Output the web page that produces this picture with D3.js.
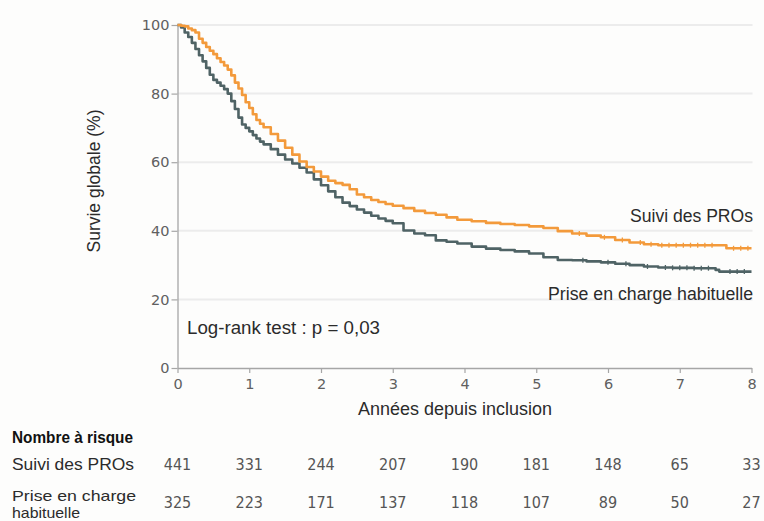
<!DOCTYPE html>
<html><head><meta charset="utf-8">
<script src="https://cdn.jsdelivr.net/npm/d3@7"></script>
<style>
html,body{margin:0;padding:0;background:#fdfdfc;}
svg{display:block;font-family:'Liberation Sans',Arial,sans-serif;}
</style></head>
<body>
<svg id="chart" width="764" height="521"></svg>
<script>
// ---- Data ----
const timesPRO = [0,0.05,0.1,0.15,0.2,0.25,0.3,0.35,0.4,0.45,0.5,0.55,0.6,0.65,0.7,0.75,0.8,0.85,0.9,0.95,1.0,1.05,1.1,1.15,1.2,1.3,1.4,1.5,1.6,1.7,1.8,1.9,2.0,2.1,2.2,2.3,2.4,2.5,2.6,2.7,2.8,2.9,3.0,3.15,3.3,3.45,3.6,3.75,3.9,4.1,4.3,4.5,4.7,4.9,5.1,5.3,5.5,5.7,5.9,6.1,6.3,6.5,6.7,6.9,7.2,7.5,7.65,8.0];
const survPRO  = [100,99.8,99.6,99.0,98.5,97.8,96.0,94.8,93.6,92.5,91.5,90.3,89.2,88.2,87.0,85.3,83.2,81.5,79.6,77.5,75.8,74.0,72.3,71.2,70.2,68.2,66.3,64.2,62.2,60.2,58.6,57.3,55.8,54.6,53.9,53.4,52.1,50.6,49.8,49.0,48.4,47.8,47.3,46.6,45.8,45.2,44.7,43.9,43.2,42.8,42.3,42.0,41.7,41.3,40.8,39.9,39.2,38.6,38.1,37.3,36.6,36.1,35.8,35.8,35.8,35.8,34.9,34.9];

const timesUsual = [0,0.05,0.1,0.15,0.2,0.25,0.3,0.35,0.4,0.45,0.5,0.55,0.6,0.65,0.7,0.75,0.8,0.85,0.9,0.95,1.0,1.05,1.1,1.15,1.2,1.3,1.4,1.5,1.6,1.7,1.8,1.9,2.0,2.1,2.2,2.3,2.4,2.5,2.6,2.7,2.8,2.9,3.0,3.15,3.3,3.45,3.6,3.75,3.9,4.1,4.3,4.5,4.7,4.9,5.1,5.3,5.5,5.7,5.9,6.1,6.3,6.5,6.7,6.9,7.2,7.5,7.55,8.0];
const survUsual  = [100,99.3,97.8,96.5,94.8,93.0,91.2,89.4,87.5,85.5,84.0,83.2,82.3,81.3,80.0,77.8,75.5,73.0,71.0,70.0,69.0,67.9,66.9,66.0,65.2,63.8,62.2,60.8,59.6,58.4,57.0,55.0,53.3,51.5,49.8,48.2,47.2,46.2,45.3,44.4,43.6,42.9,42.2,40.1,39.2,38.7,37.2,36.8,36.3,35.4,34.8,34.4,34.0,33.4,32.3,31.5,31.4,31.1,30.8,30.4,30.0,29.6,29.3,29.2,29.1,28.6,28.1,28.1];

const censorPRO = [5.6,5.95,6.2,6.45,6.6,6.75,6.85,6.95,7.05,7.15,7.25,7.35,7.45,7.75,7.85,7.95];
const censorUsual = [5.65,6.0,6.25,6.55,6.8,6.9,7.0,7.1,7.2,7.3,7.4,7.7,7.8,7.9];

const xTicks = [0,1,2,3,4,5,6,7,8];
const yTicks = [0,20,40,60,80,100];
const seriesNames = ["Suivi des PROs", "Prise en charge habituelle"];
const atRiskPRO   = [441,331,244,207,190,181,148,65,33];
const atRiskUsual = [325,223,171,137,118,107,89,50,27];
const colors = ["#f39a3b", "#4f6365"];

// ---- Chart ----
const svg = d3.select("#chart");
const x = d3.scaleLinear().domain([0,8]).range([177.5,751.5]);
const y = d3.scaleLinear().domain([0,100]).range([368,25]);

// gridlines
svg.append("g").selectAll("line").data(yTicks.filter(d=>d>0)).join("line")
  .attr("x1", x(0)).attr("x2", x(8)+1)
  .attr("y1", d=>y(d)).attr("y2", d=>y(d))
  .attr("stroke","#ececec").attr("stroke-width",2);

// axes
const yAxis = svg.append("g").attr("transform",`translate(${x(0)},0)`)
  .call(d3.axisLeft(y).tickValues(yTicks).tickSize(6).tickPadding(2).tickSizeOuter(0));
const xAxis = svg.append("g").attr("transform",`translate(0,${y(0)})`)
  .call(d3.axisBottom(x).tickValues(xTicks).tickSize(5).tickPadding(6).tickSizeOuter(0));
[yAxis,xAxis].forEach(g=>{
  g.select(".domain").attr("stroke","#a6a6a6").attr("stroke-width",1.3);
  g.selectAll(".tick line").attr("stroke","#a6a6a6").attr("stroke-width",1.2);
  g.selectAll(".tick text").attr("fill","#606060")
    .style("font-family","'DejaVu Sans',Verdana,sans-serif").style("font-size","14.5px");
});

// curves
const line = d3.line().x(d=>x(d[0])).y(d=>y(d[1])).curve(d3.curveStepAfter);
const dataPRO = timesPRO.map((t,i)=>[t,survPRO[i]]);
const dataUsual = timesUsual.map((t,i)=>[t,survUsual[i]]);
[[dataUsual,colors[1]],[dataPRO,colors[0]]].forEach(([d,c])=>{
  svg.append("path").datum(d).attr("d",line).attr("fill","none")
    .attr("stroke",c).attr("stroke-width",2.6).attr("stroke-linejoin","round");
});
// censor marks
function stepVal(times, vals, t){ const i = d3.bisectRight(times,t)-1; return vals[Math.max(0,i)]; }
[[censorPRO,timesPRO,survPRO,colors[0]],[censorUsual,timesUsual,survUsual,colors[1]]].forEach(([cs,ts,vs,c])=>{
  svg.append("g").selectAll("line").data(cs).join("line")
    .attr("x1",d=>x(d)).attr("x2",d=>x(d))
    .attr("y1",d=>y(stepVal(ts,vs,d))-2.5).attr("y2",d=>y(stepVal(ts,vs,d))+2.5)
    .attr("stroke",c).attr("stroke-width",1.3);
});

// texts
const txt = "#2b2b2b";
svg.append("text").attr("transform","translate(100,181) rotate(-90)")
  .attr("text-anchor","middle").attr("fill",txt).style("font-size","17.5px")
  .attr("textLength",143).attr("lengthAdjust","spacingAndGlyphs").text("Survie globale (%)");
svg.append("text").attr("x",455).attr("y",415).attr("text-anchor","middle")
  .attr("fill",txt).style("font-size","17.5px").attr("textLength",194).attr("lengthAdjust","spacingAndGlyphs")
  .text("Années depuis inclusion");
svg.append("text").attr("x",187).attr("y",334).attr("fill",txt).style("font-size","17.5px")
  .attr("textLength",193).attr("lengthAdjust","spacingAndGlyphs").text("Log-rank test : p = 0,03");
svg.append("text").attr("x",753).attr("y",222).attr("text-anchor","end").attr("fill",txt)
  .style("font-size","17.5px").attr("textLength",123).attr("lengthAdjust","spacingAndGlyphs").text(seriesNames[0]);
svg.append("text").attr("x",753).attr("y",300).attr("text-anchor","end").attr("fill",txt)
  .style("font-size","17.5px").attr("textLength",205).attr("lengthAdjust","spacingAndGlyphs").text(seriesNames[1]);

// risk table
svg.append("text").attr("x",12).attr("y",443).attr("fill","#111").style("font-weight","bold")
  .style("font-size","16px").attr("textLength",121).attr("lengthAdjust","spacingAndGlyphs").text("Nombre à risque");
svg.append("text").attr("x",12).attr("y",470).attr("fill",txt).style("font-size","17px")
  .attr("textLength",122).attr("lengthAdjust","spacingAndGlyphs").text(seriesNames[0]);
svg.append("text").attr("x",12).attr("y",501).attr("fill",txt).style("font-size","15px")
  .attr("textLength",124).attr("lengthAdjust","spacingAndGlyphs").text("Prise en charge");
svg.append("text").attr("x",12).attr("y",518).attr("fill",txt).style("font-size","15px")
  .attr("textLength",68).attr("lengthAdjust","spacingAndGlyphs").text("habituelle");

const numFont = "'Liberation Sans Narrow','DejaVu Sans Condensed','Liberation Sans',sans-serif";
[[atRiskPRO,470],[atRiskUsual,508]].forEach(([arr,yy])=>{
  svg.append("g").selectAll("text").data(arr).join("text")
    .attr("x",(d,i)=>x(xTicks[i])).attr("y",yy).attr("text-anchor","middle")
    .attr("fill","#555").style("font-family",numFont).style("font-size","16px")
    .text(d=>d);
});
</script>
</body></html>
